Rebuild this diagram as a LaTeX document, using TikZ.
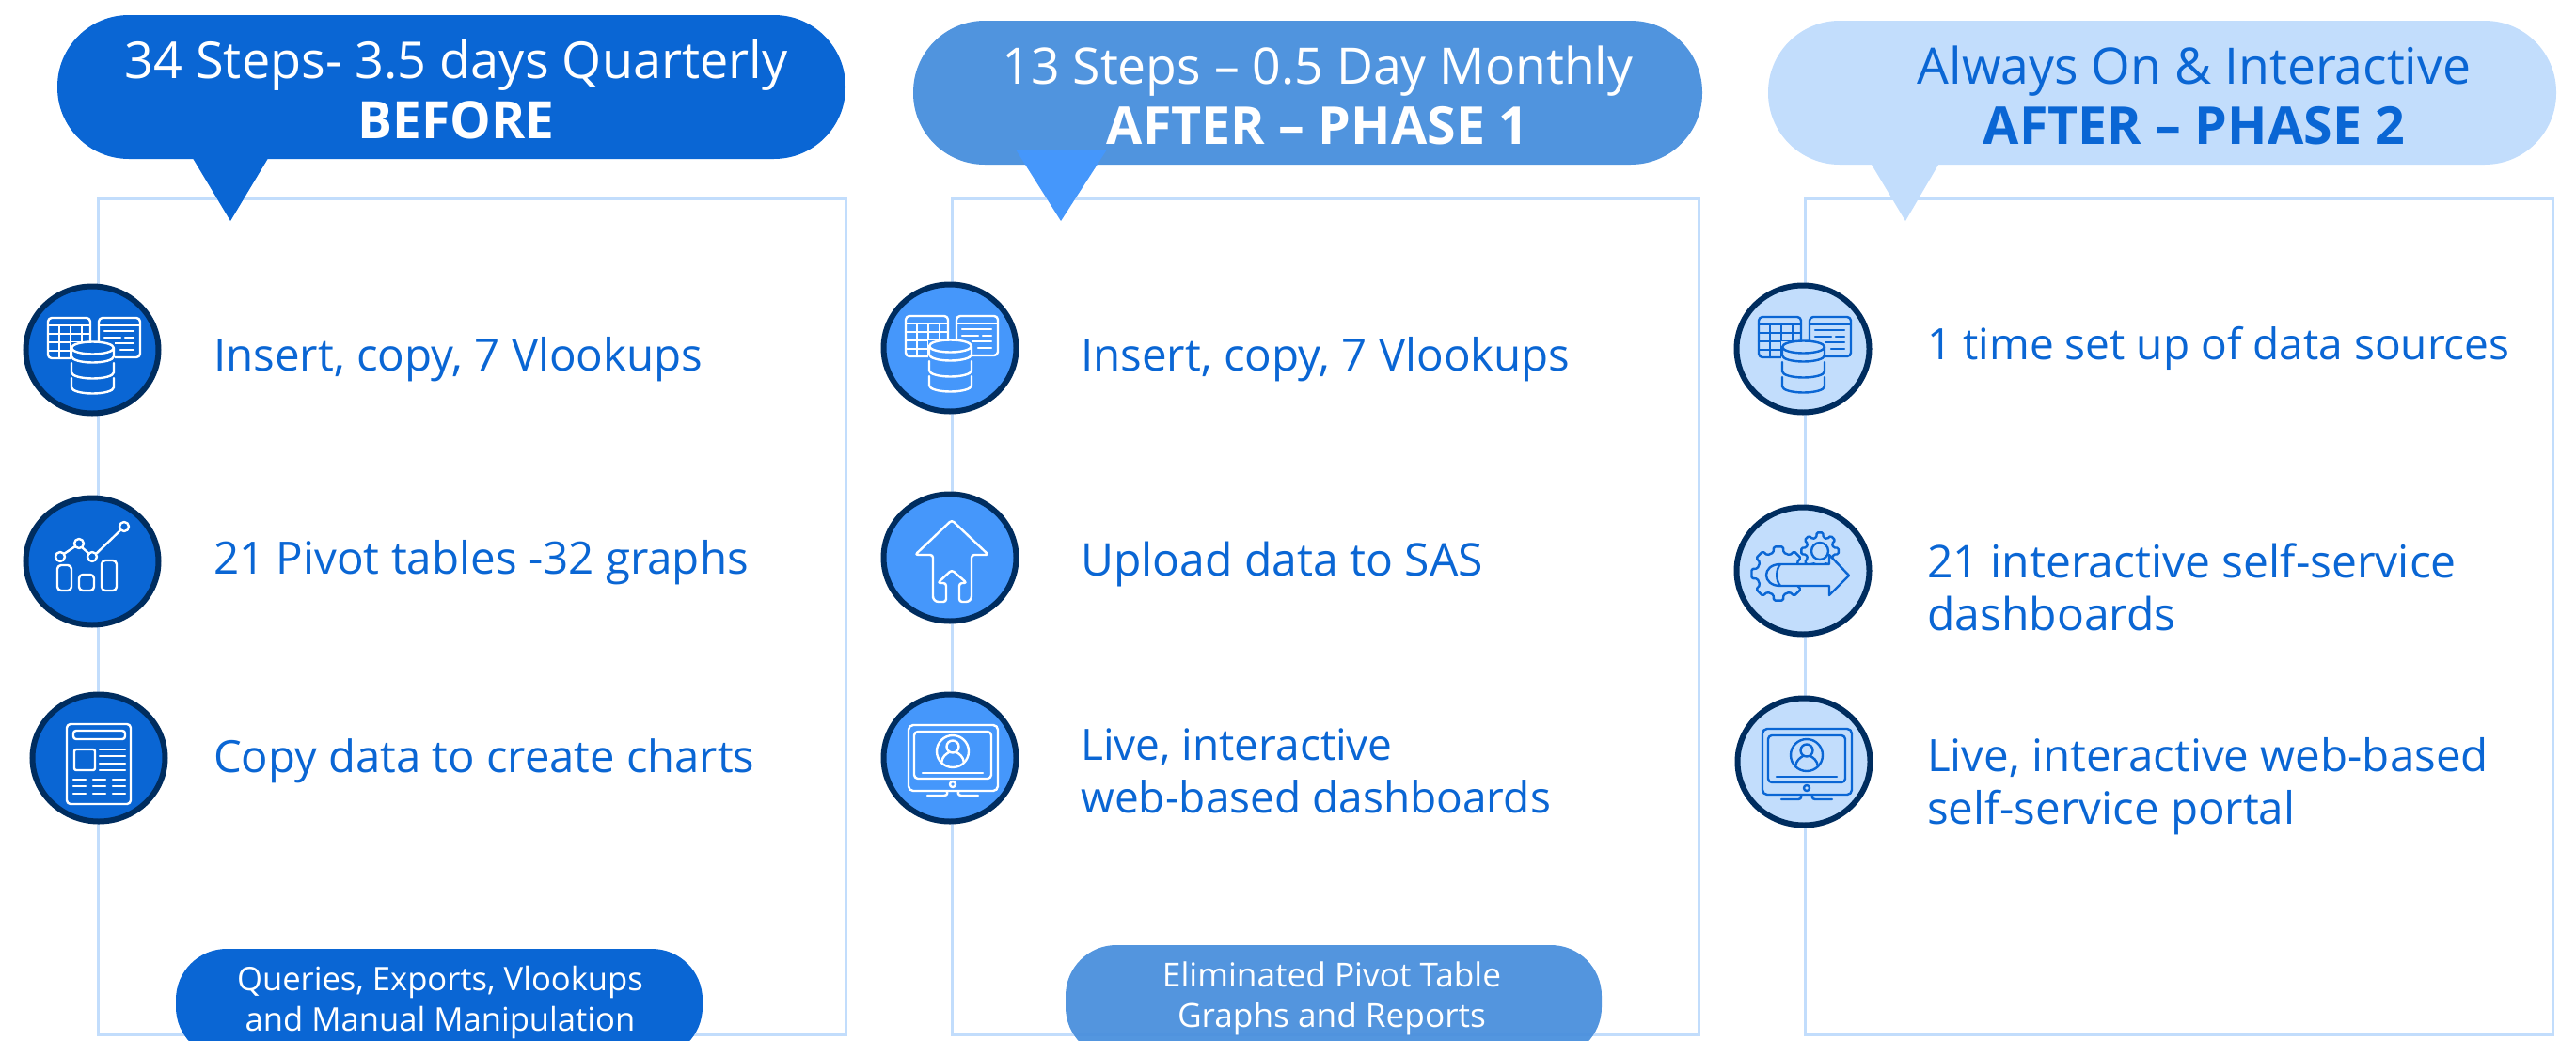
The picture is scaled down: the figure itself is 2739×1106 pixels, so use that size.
\documentclass[tikz,border=0pt]{standalone}
\usepackage{fontspec}
\setmainfont{Open Sans}
\definecolor{cblue}{HTML}{0A66D4}
\definecolor{cmid}{HTML}{5094DE}
\definecolor{cmidb}{HTML}{4A90DD}
\definecolor{cbright}{HTML}{4597FB}
\definecolor{cpale}{HTML}{C2DDFC}
\definecolor{cnavy}{HTML}{002D5F}
\usetikzlibrary{calc,shapes.geometric}
\newcommand{\gearpath}[5]{% cx cy rout rin teeth
  \pgfmathsetmacro{\gstep}{360/#5}
  \draw[fill=iconbg,rounded corners=1.5pt] ($(#1,#2)+(0:#3)$) \foreach \ga in {1,...,#5}{
    -- ($(#1,#2)+({(\ga-1)*\gstep+0.22*\gstep}:#3)$)
    -- ($(#1,#2)+({(\ga-1)*\gstep+0.30*\gstep}:#4)$)
    -- ($(#1,#2)+({(\ga-1)*\gstep+0.70*\gstep}:#4)$)
    -- ($(#1,#2)+({(\ga-1)*\gstep+0.78*\gstep}:#3)$)
  } -- cycle;}
\newcommand{\fsz}[2][56]{\fontsize{#2}{#1}\selectfont}
\tikzset{
  x=1pt,y=-1pt,
  frame/.style={draw=cpale,line width=3pt,fill=white,minimum height=889pt,anchor=north west,inner sep=0pt,outer sep=0pt},
  badge/.style={ellipse,draw=cnavy,line width=6pt,minimum width=141pt,minimum height=135pt,inner sep=0pt},
  body/.style={anchor=west,text=cblue,align=left,inner sep=0pt},
  headtext/.style={text=white,align=center,inner sep=0pt},
  pilltext/.style={text=white,align=center,inner sep=0pt},
  icon/.style={line width=2.4pt,line join=round,line cap=round},
  pics/dbicon/.style={code={
    \begin{scope}[icon,draw=#1]
    \draw[rounded corners=4pt] (-47,-34) rectangle (-2,9);
    \draw (-47,-26)--(-2,-26) (-47,-17)--(-2,-17) (-47,-8)--(-2,-8) (-47,1)--(-2,1)
          (-35,-26)--(-35,9) (-23,-26)--(-23,9) (-11,-26)--(-11,9);
    \draw[rounded corners=4pt] (7,-34) rectangle (51,8);
    \draw (7,-26)--(51,-26) (13,-20)--(44,-20) (13,-13)--(30,-13) (35,-13)--(44,-13) (13,-7)--(44,-7) (30,0)--(44,0);
    \fill[iconbg] (-23,-8) rectangle (24,46);
    \draw (0.5,-2) ellipse [x radius=22.5,y radius=6.5];
    \draw (-22,-2)--(-22,7) arc[start angle=180,end angle=0,x radius=22.5,y radius=6.5]--(23,-2);
    \draw (-22,14)--(-22,24) arc[start angle=180,end angle=0,x radius=22.5,y radius=6.5]--(23,14);
    \draw (-22,30)--(-22,40) arc[start angle=180,end angle=0,x radius=22.5,y radius=6.5]--(23,30);
    \end{scope}}},
  pics/chartcon/.style={code={
    \begin{scope}[icon,draw=#1]
    \draw[rounded corners=4pt] (-37,4) rectangle (-22,31);
    \draw[rounded corners=4pt] (-14,14) rectangle (2,31);
    \draw[rounded corners=4pt] (10,-1) rectangle (26,31);
    \draw (-34,-5) circle[radius=5] (-14,-19) circle[radius=5] (0,-5) circle[radius=5] (34,-37) circle[radius=5];
    \draw (-30,-8)--(-18,-16) (-11,-15)--(-3,-8) (4,-8)--(30,-33);
    \end{scope}}},
  pics/newsicon/.style={code={
    \begin{scope}[icon,draw=#1]
    \draw[rounded corners=4pt] (-34,-36) rectangle (34,49);
    \draw[rounded corners=3pt] (-27,-29) rectangle (28,-20);
    \draw[rounded corners=2pt] (-26,-9) rectangle (-4,13);
    \draw (1,-9)--(28,-9) (1,-2)--(28,-2) (1,6)--(28,6) (1,13)--(28,13);
    \foreach \yy in {23,30,38}{\draw (-27,\yy)--(-14,\yy) (-6,\yy)--(7,\yy) (15,\yy)--(28,\yy);}
    \end{scope}}},
  pics/upicon/.style={code={
    \begin{scope}[icon,draw=#1]
    \draw[rounded corners=3pt] (2,-40)--(-37,-3)--(-18,-3)--(-18,40)
      {[rounded corners=6pt]--(-18,47)}--(-4,47)--(-4,27)--(-13,27)--(2,13)--(18,27)--(10,27)--(10,47)
      {[rounded corners=6pt]--(23,47)}--(23,-3)--(41,-3)--cycle;
    \end{scope}}},
  pics/screenicon/.style={code={
    \begin{scope}[icon,draw=#1]
    \draw[rounded corners=5pt] (-44,-35) rectangle (51,35);
    \draw[rounded corners=4pt] (-38,-28) rectangle (44,22);
    \draw (3,-7) circle[radius=17] (3,-12) circle[radius=6.5];
    \draw (-9,5) .. controls (-8,-2) and (-4,-4) .. (-1,-6) (15,5) .. controls (14,-2) and (10,-4) .. (7,-6);
    \draw (-29,16)--(35,16);
    \draw (3,28) circle[radius=3];
    \draw (-24,40)--(-6,40) .. controls (-2,40) and (-2,35) .. (-4,35) (30,40)--(12,40) .. controls (8,40) and (8,35) .. (10,35);
    \end{scope}}},
  pics/gearicon/.style={code={
    \begin{scope}[icon,draw=#1]
    \gearpath{-26}{3}{29}{23}{8}
    \gearpath{18}{-21}{20}{15}{8}
    \draw (18,-21) circle[radius=9];
    \draw[fill=iconbg] (-24,-7)--(28,-7)--(28,-17)--(49,5)--(28,26)--(28,16)--(-24,16)
       .. controls (-44,16) and (-44,-7) .. (-24,-7)--cycle;
    \draw (-24,-7) .. controls (-29,-2) and (-29,11) .. (-24,16);
    \end{scope}}},
}
\newcommand{\useiconbg}[1]{\colorlet{iconbg}{#1}}
\begin{document}
\begin{tikzpicture}
\useasboundingbox (0,0) rectangle (2739,1106);
\clip (0,0) rectangle (2739,1106);
% frames
\node[frame,minimum width=795pt] (f1) at (104,211) {};
\node[frame,minimum width=794pt] (f2) at (1012,211) {};
\node[frame,minimum width=795pt] (f3) at (1919,211) {};
% bubbles
\fill[cblue,rounded corners=76pt] (61,16) rectangle (899,169);
\fill[cblue] (203,165)--(245,235)--(287,165)--cycle;
\node[headtext] (h1) at (485,95) {\fsz[62]{54}34 Steps- 3.5 days Quarterly\\[10pt]\fsz[62]{55}\textbf{BEFORE}};
\fill[cmid,rounded corners=76pt] (971,22) rectangle (1810,175);
\fill[cbright] (1080,159)--(1128,235)--(1177,159)--cycle;
\node[headtext] (h2) at (1401,101) {\fsz[62]{53.5}13 Steps – 0.5 Day Monthly\\[10pt]\fsz[62]{55.5}\textbf{AFTER – PHASE 1}};
\fill[cpale,rounded corners=76pt] (1880,22) rectangle (2718,175);
\fill[cpale] (1987,170)--(2026,235)--(2064,170)--cycle;
\node[headtext,text=cblue] (h3) at (2333,101) {\fsz[62]{53.5}Always On \& Interactive\\[10pt]\fsz[62]{55.5}\textbf{AFTER – PHASE 2}};
% column 1
\useiconbg{cblue}
\node[badge,fill=cblue] (a1) at (98,372) {}; \pic at (a1) {dbicon=white};
\node[badge,fill=cblue] (a2) at (98,597) {}; \pic at (a2) {chartcon=white};
\node[badge,fill=cblue] (a3) at (105,806) {}; \pic at (a3) {newsicon=white};
\node[body,font=\fsz{47.5}] (ta1) at (227,382) {Insert, copy, 7 Vlookups};
\node[body,font=\fsz{47.5}] (ta2) at (227,598) {21 Pivot tables -32 graphs};
\node[body,font=\fsz{47.2}] (ta3) at (227,809) {Copy data to create charts};
% column 2
\useiconbg{cbright}
\node[badge,fill=cbright] (b1) at (1010,370) {}; \pic at (b1) {dbicon=white};
\node[badge,fill=cbright] (b2) at (1010,593) {}; \pic at (b2) {upicon=white};
\node[badge,fill=cbright] (b3) at (1010,806) {}; \pic at (b3) {screenicon=white};
\node[body,font=\fsz{47.5}] (tb1) at (1149,382) {Insert, copy, 7 Vlookups};
\node[body,font=\fsz{48}] (tb2) at (1149,600) {Upload data to SAS};
\node[body,font=\fsz{46}] (tb3) at (1149,820) {Live, interactive\\web-based dashboards};
% column 3
\useiconbg{cpale}
\node[badge,fill=cpale] (c1) at (1917,371) {}; \pic at (c1) {dbicon=cblue};
\node[badge,fill=cpale] (c2) at (1917,607) {}; \pic at (c2) {gearicon=cblue};
\node[badge,fill=cpale] (c3) at (1918,810) {}; \pic at (c3) {screenicon=cblue};
\node[body,font=\fsz{46}] (tc1) at (2049,370) {1 time set up of data sources};
\node[body,font=\fsz{48}] (tc2) at (2049,624) {21 interactive self-service\\dashboards};
\node[body,font=\fsz{47.5}] (tc3) at (2049,836) {Live, interactive web-based\\self-service portal};
% pills
\fill[cblue,rounded corners=54pt] (187,1009) rectangle (747,1125);
\node[pilltext,font={\fsz[43]{34.6}}] (p1) at (468,1066) {Queries, Exports, Vlookups\\and Manual Manipulation};
\fill[cmidb,opacity=.95,rounded corners=54pt] (1133,1005) rectangle (1703,1125);
\node[pilltext,font={\fsz[43]{35.2}}] (p2) at (1416,1062) {Eliminated Pivot Table\\Graphs and Reports};
\end{tikzpicture}
\end{document}
